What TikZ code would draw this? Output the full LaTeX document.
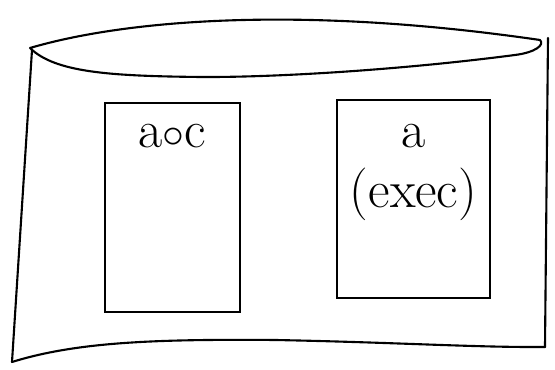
\documentclass[tikz,border=0pt]{standalone}
\usepackage{amsmath,amssymb}
\usepackage{tikz}
\usetikzlibrary{positioning}

\begin{document}
\begin{tikzpicture}[
    outline/.style={draw=black, line width=1.2pt, line cap=round, line join=round},
    procbox/.style={rectangle, draw=black, line width=1.4pt, fill=white, inner sep=0pt},
    proclabel/.style={font=\fontsize{30}{34}\selectfont, align=center, inner sep=0pt}
  ]
    \useasboundingbox (0,0) rectangle (11.1,7.4);

    % container: top rim, sides and wavy base
    \draw[outline] (0.6,6.44) .. controls (2.5,7.0) and (6,7.3) .. (10.8,6.6)
                   .. controls (10.9,6.5) and (10.7,6.35) .. (10.3,6.3)
                   .. controls (8,6.0) and (5.5,5.85) .. (4,5.86)
                   .. controls (2.2,5.88) and (1.1,5.95) .. (0.6,6.44);
    \draw[outline] (0.64,6.4) -- (0.24,0.16);
    \draw[outline] (10.96,6.64) -- (10.9,0.46);
    \draw[outline] (0.24,0.16) .. controls (1.5,0.55) and (3,0.62) .. (5.5,0.6)
                   .. controls (8,0.55) and (9.5,0.45) .. (10.9,0.46);

    \node[procbox, minimum width=2.7cm, minimum height=4.18cm] (left) at (3.45,3.25) {};
    \node[procbox, minimum width=3.06cm, minimum height=3.96cm] (right) at (8.27,3.42) {};

    \node[proclabel, below=0.45cm of left.north] (lefttext) {a$\circ$c};
    \node[proclabel, below=0.5cm of right.north] (righttext) {a\\(exec)};
  \end{tikzpicture}
\end{document}
